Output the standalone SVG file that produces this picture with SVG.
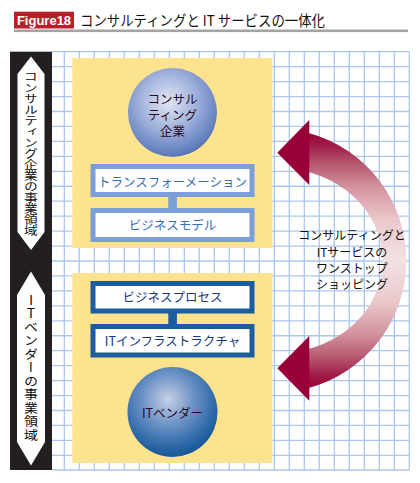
<svg xmlns="http://www.w3.org/2000/svg" width="420" height="483" viewBox="0 0 420 483">
<style>
.jp{font-family:"Noto Sans CJK JP","Noto Sans",sans-serif;}
.vt{font-family:"Noto Sans CJK JP",sans-serif;fill:#111;writing-mode:vertical-rl;text-orientation:upright;}
.box1{fill:#fff;stroke:#7b9fd6;stroke-width:5;}
.box2{fill:#fff;stroke:#1b5d9e;stroke-width:5;}
.t1{font-size:12.5px;fill:#3a6db4;text-anchor:middle;}
.t2{font-size:12.5px;fill:#173a7c;text-anchor:middle;}
.st{font-size:12.5px;fill:#2a0a1e;text-anchor:middle;}
.at{font-size:12px;fill:#111;text-anchor:middle;}
.head{fill:#99003a;}
</style>
<defs>
<radialGradient id="sph1" cx="0.45" cy="0.38" r="0.62">
<stop offset="0" stop-color="#e2e6f3"/>
<stop offset="0.45" stop-color="#a9b8df"/>
<stop offset="0.85" stop-color="#6f8ac5"/>
<stop offset="1" stop-color="#5a76b4"/>
</radialGradient>
<radialGradient id="sph2" cx="0.45" cy="0.36" r="0.62">
<stop offset="0" stop-color="#c6cfe6"/>
<stop offset="0.45" stop-color="#6e94c6"/>
<stop offset="0.85" stop-color="#2e68a8"/>
<stop offset="1" stop-color="#1b5a9a"/>
</radialGradient>
<linearGradient id="arr" gradientUnits="userSpaceOnUse" x1="0" y1="133" x2="0" y2="388">
<stop offset="0" stop-color="#980035"/>
<stop offset="0.05" stop-color="#a01c48"/>
<stop offset="0.12" stop-color="#b65870"/>
<stop offset="0.22" stop-color="#d596a2"/>
<stop offset="0.34" stop-color="#eac8cc"/>
<stop offset="0.5" stop-color="#f3e2e2"/>
<stop offset="0.66" stop-color="#eac8cc"/>
<stop offset="0.78" stop-color="#d596a2"/>
<stop offset="0.88" stop-color="#b65870"/>
<stop offset="0.95" stop-color="#a01c48"/>
<stop offset="1" stop-color="#980035"/>
</linearGradient>
</defs>

<rect width="420" height="483" fill="#fff"/>

<g id="title">
<rect x="14" y="11.7" width="60" height="16.8" fill="#b71f2b"/>
<text x="44" y="24.7" font-family="Liberation Sans, Arial, sans-serif" font-weight="bold" font-size="13" fill="#fff" text-anchor="middle">Figure18</text>
<text class="jp" x="80" y="26" font-size="14.5" fill="#111" textLength="245" lengthAdjust="spacingAndGlyphs">コンサルティングと IT サービスの一体化</text>
<rect x="14" y="29.5" width="394" height="2.6" fill="#a3a3a3"/>
</g>

<g id="grid">
<rect x="52" y="51.7" width="357.3" height="418.3" fill="#fff"/>
<path fill="none" stroke="#abc7ee" stroke-width="1.3" d="M64.3 51.7V470M79.3 51.7V470M94.3 51.7V470M109.3 51.7V470M124.3 51.7V470M139.3 51.7V470M154.3 51.7V470M169.3 51.7V470M184.3 51.7V470M199.3 51.7V470M214.3 51.7V470M229.3 51.7V470M244.3 51.7V470M259.3 51.7V470M274.3 51.7V470M289.3 51.7V470M304.3 51.7V470M319.3 51.7V470M334.3 51.7V470M349.3 51.7V470M364.3 51.7V470M379.3 51.7V470M394.3 51.7V470M409.3 51.7V470
M52 51.7H409.3M52 66.65H409.3M52 81.6H409.3M52 96.55H409.3M52 111.5H409.3M52 126.45H409.3M52 141.4H409.3M52 156.35H409.3M52 171.3H409.3M52 186.25H409.3M52 201.2H409.3M52 216.15H409.3M52 231.1H409.3M52 246.05H409.3M52 261H409.3M52 275.95H409.3M52 290.9H409.3M52 305.85H409.3M52 320.8H409.3M52 335.75H409.3M52 350.7H409.3M52 365.65H409.3M52 380.6H409.3M52 395.55H409.3M52 410.5H409.3M52 425.45H409.3M52 440.4H409.3M52 455.35H409.3M52 470H409.3"/>
</g>

<g id="sidebar">
<rect x="10" y="51.7" width="42" height="418.3" fill="#231f20"/>
<polygon points="31,56.5 44.5,74 44.5,232 31,250 17.5,232 17.5,74" fill="#fff"/>
<polygon points="31,271.5 45,295 45,442 31,465.5 17,442 17,295" fill="#fff"/>
<text class="vt" x="31" y="154" font-size="11" text-anchor="middle" transform="translate(31 0) scale(1.25 1) translate(-31 0)">コンサルティング企業の事業領域</text>
<text class="vt" x="31" y="368" font-size="12.5" text-anchor="middle" letter-spacing="1" transform="translate(31 0) scale(1.12 1) translate(-31 0)">ITベンダーの事業領域</text>
</g>

<g id="panel-top">
<rect x="72.3" y="58" width="200" height="190" fill="#fde38e"/>
</g>
<g id="panel-bottom">
<rect x="72.3" y="273" width="200" height="190" fill="#fde38e"/>
</g>

<g id="connectors">
<rect x="168.3" y="196" width="8.6" height="13" fill="#7b9fd6"/>
<rect x="168.3" y="312" width="8.6" height="13" fill="#1b5d9e"/>
</g>

<g id="sphere-consulting">
<circle cx="172.5" cy="112.5" r="44.5" fill="url(#sph1)"/>
<text class="jp st" x="172.5" y="104">コンサル</text>
<text class="jp st" x="172.5" y="120">ティング</text>
<text class="jp st" x="172.5" y="135.5">企業</text>
</g>

<g id="box-transformation">
<rect class="box1" x="93" y="166.5" width="159" height="28"/>
<text class="jp t1" x="172.5" y="187">トランスフォーメーション</text>
</g>
<g id="box-bizmodel">
<rect class="box1" x="93" y="210.5" width="159" height="29"/>
<text class="jp t1" x="172.5" y="229.5">ビジネスモデル</text>
</g>

<g id="box-bizprocess">
<rect class="box2" x="93" y="283.5" width="159" height="27.5"/>
<text class="jp t2" x="172.5" y="302">ビジネスプロセス</text>
</g>
<g id="box-infra">
<rect class="box2" x="93" y="326.5" width="159" height="28.5"/>
<text class="jp t2" x="172.5" y="346">ITインフラストラクチャ</text>
</g>

<g id="sphere-vendor">
<circle cx="172.5" cy="412" r="45" fill="url(#sph2)"/>
<text class="jp st" x="172.5" y="418">ITベンダー</text>
</g>

<g id="arrow">
<path d="M308.5,133 A132,132 0 0 1 308.5,388 L308.5,349 A105,92.6 0 0 0 308.5,172 Z" fill="url(#arr)"/>
<polygon class="head" points="277.3,152.7 309.3,120 309.3,185"/>
<polygon class="head" points="277.3,368.3 309.3,336 309.3,400.7"/>
<text class="jp at" x="352" y="240">コンサルティングと</text>
<text class="jp at" x="352" y="256.5">ITサービスの</text>
<text class="jp at" x="352" y="272.5">ワンストップ</text>
<text class="jp at" x="352" y="288.5">ショッピング</text>
</g>
</svg>
